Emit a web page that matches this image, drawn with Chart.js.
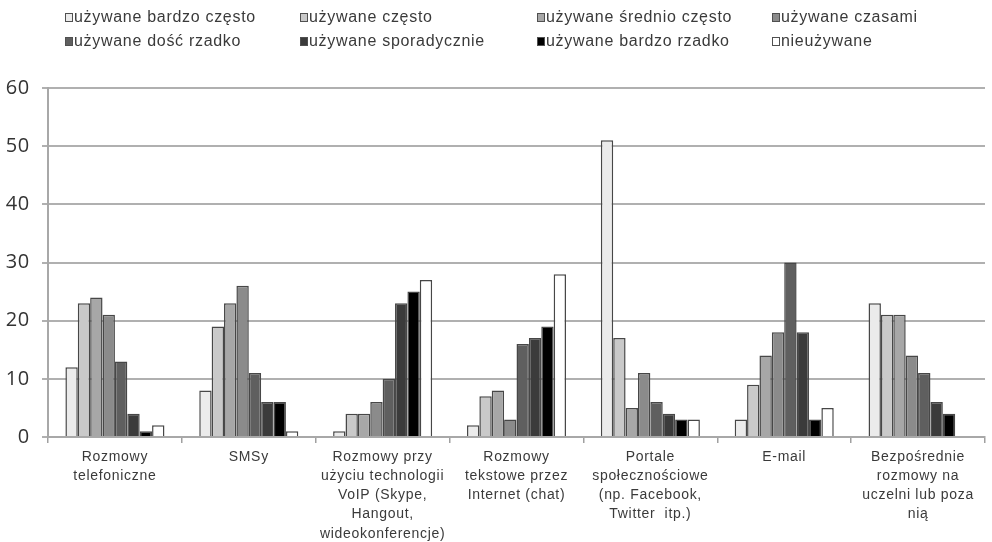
<!DOCTYPE html>
<html>
<head>
<meta charset="utf-8">
<script src="https://cdn.jsdelivr.net/npm/chart.js@4/dist/chart.umd.min.js"></script>
<style>
  html, body { margin: 0; padding: 0; background: #ffffff; }
  #wrap { width: 992px; height: 542px; position: relative; }
</style>
</head>
<body>
<div id="wrap"><canvas id="chart" width="992" height="542"></canvas></div>
<script>
// Kanały komunikacji (kategorie osi X)
const categories = [
  ["Rozmowy", "telefoniczne"],
  ["SMSy"],
  ["Rozmowy przy", "użyciu technologii", "VoIP (Skype,", "Hangout,", "wideokonferencje)"],
  ["Rozmowy", "tekstowe przez", "Internet (chat)"],
  ["Portale", "społecznościowe", "(np. Facebook,", "Twitter  itp.)"],
  ["E-mail"],
  ["Bezpośrednie", "rozmowy na", "uczelni lub poza", "nią"]
];

// Częstotliwość używania (serie)
const seriesNames = [
  "używane bardzo często",
  "używane często",
  "używane średnio często",
  "używane czasami",
  "używane dość rzadko",
  "używane sporadycznie",
  "używane bardzo rzadko",
  "nieużywane"
];

const bardzoCzesto   = [12, 8, 1, 2, 51, 3, 23];
const czesto         = [23, 19, 4, 7, 17, 9, 21];
const sredniCzesto   = [24, 23, 4, 8, 5, 14, 21];
const czasami        = [21, 26, 6, 3, 11, 18, 14];
const doscRzadko     = [13, 11, 10, 16, 6, 30, 11];
const sporadycznie   = [4, 6, 23, 17, 4, 18, 6];
const bardzoRzadko   = [1, 6, 25, 19, 3, 3, 4];
const nieuzywane     = [2, 1, 27, 28, 3, 5, 0];

const yTicks = [0, 10, 20, 30, 40, 50, 60];

const seriesValues = [bardzoCzesto, czesto, sredniCzesto, czasami, doscRzadko, sporadycznie, bardzoRzadko, nieuzywane];
const fills = ["#ebebeb", "#c9c9c9", "#a7a7a7", "#8b8b8b", "#5f5f5f", "#3b3b3b", "#000000", "#ffffff"];

const datasets = seriesNames.map((name, i) => ({
  label: name,
  data: seriesValues[i],
  backgroundColor: fills[i],
  borderColor: "#474747",
  borderWidth: 1.5,
  borderSkipped: "bottom",
  categoryPercentage: 0.74,
  barPercentage: 1.0
}));

// Legenda w dwóch wierszach po cztery kolumny
const gridLegend = {
  id: "gridLegend",
  afterDraw(chart) {
    const ctx = chart.ctx;
    const colX = [65, 300, 537, 772];
    const rowY = [17, 41];
    ctx.save();
    ctx.font = "16px 'Liberation Sans', Arial, sans-serif";
    ctx.letterSpacing = "0.7px";
    ctx.textBaseline = "middle";
    chart.data.datasets.forEach((ds, i) => {
      const x = colX[i % 4];
      const y = rowY[Math.floor(i / 4)];
      ctx.fillStyle = ds.backgroundColor;
      ctx.fillRect(x, y - 4, 8, 9);
      ctx.strokeStyle = "#505050";
      ctx.lineWidth = 1;
      ctx.strokeRect(x + 0.5, y - 3.5, 7, 8);
      ctx.fillStyle = "#3a3a3a";
      ctx.fillText(ds.label, x + 9, y + 1);
    });
    ctx.restore();
  }
};

// Lekko rozstrzelony tekst etykiet
const spacing = {
  id: "spacing",
  beforeDraw(chart) { chart.ctx.letterSpacing = "0.7px"; },
  afterDraw(chart) { chart.ctx.letterSpacing = "0px"; }
};

new Chart(document.getElementById("chart"), {
  type: "bar",
  data: { labels: categories, datasets },
  options: {
    responsive: false,
    animation: false,
    layout: { padding: { top: 88, right: 7, left: 0, bottom: 0 } },
    plugins: {
      legend: { display: false },
      tooltip: { enabled: false }
    },
    scales: {
      x: {
        offset: true,
        grid: {
          display: true,
          drawOnChartArea: false,
          drawTicks: true,
          tickLength: 6,
          color: "#a0a0a0",
          lineWidth: 1.5
        },
        border: { display: true, color: "#a8a8a8", width: 2 },
        ticks: {
          color: "#3a3a3a",
          font: { family: "'Liberation Sans', Arial, sans-serif", size: 14, lineHeight: 1.36 },
          padding: 5,
          maxRotation: 0,
          autoSkip: false
        },
        afterFit(scale) { scale.height = 105; }
      },
      y: {
        min: 0,
        max: 60,
        afterBuildTicks(scale) { scale.ticks = yTicks.map(v => ({ value: v })); },
        grid: {
          color: "#b0b0b0",
          lineWidth: 2,
          tickLength: 6,
          drawTicks: true
        },
        border: { display: true, color: "#a8a8a8", width: 2 },
        ticks: {
          color: "#333333",
          font: { family: "'Open Sans', sans-serif", size: 20 },
          padding: 12
        },
        afterFit(scale) { scale.width = 48; }
      }
    }
  },
  plugins: [spacing, gridLegend]
});
</script>
</body>
</html>
